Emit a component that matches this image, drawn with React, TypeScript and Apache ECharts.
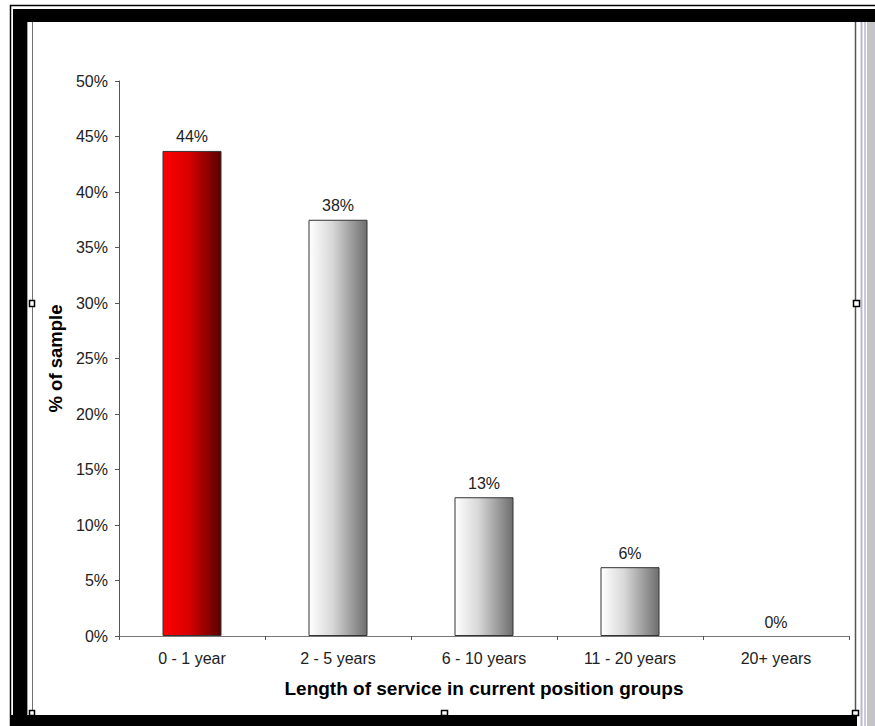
import React, { useEffect, useRef } from "react";
import * as echarts from "echarts";

const categories = ["0 - 1 year", "2 - 5 years", "6 - 10 years", "11 - 20 years", "20+ years"];
const shares = [43.7, 37.5, 12.5, 6.2, 0];
const yTicks = { min: 0, max: 50, interval: 5 };
const highlightIndex = 0;

const FONT = "'Liberation Sans', Arial, sans-serif";

function frameGraphics() {
  const els: any[] = [];
  els.push({ type: "rect", shape: { x: 10.5, y: 5.5, width: 870, height: 740 }, style: { fill: "none", stroke: "#000", lineWidth: 1.5 }, silent: true });
  els.push({ type: "rect", shape: { x: 13, y: 9, width: 862, height: 13 }, style: { fill: "#000" }, silent: true });
  els.push({ type: "rect", shape: { x: 13, y: 9, width: 14, height: 717 }, style: { fill: "#000" }, silent: true });
  els.push({ type: "rect", shape: { x: 11, y: 715, width: 851, height: 11 }, style: { fill: "#000" }, silent: true });
  els.push({ type: "line", shape: { x1: 27.5, y1: 22, x2: 27.5, y2: 715 }, style: { stroke: "#a0a0a0", lineWidth: 1 }, silent: true });
  els.push({ type: "line", shape: { x1: 32.5, y1: 22, x2: 32.5, y2: 715 }, style: { stroke: "#707070", lineWidth: 1 }, silent: true });
  els.push({ type: "line", shape: { x1: 855.5, y1: 22, x2: 855.5, y2: 715 }, style: { stroke: "#555", lineWidth: 1.5 }, silent: true });
  els.push({ type: "rect", shape: { x: 857, y: 22, width: 18, height: 704 }, style: { fill: "#fff" }, silent: true });
  els.push({ type: "line", shape: { x1: 861.5, y1: 22, x2: 861.5, y2: 726 }, style: { stroke: "#b8b8d0", lineWidth: 2 }, silent: true });
  els.push({ type: "line", shape: { x1: 865, y1: 22, x2: 865, y2: 726 }, style: { stroke: "#b8b8d0", lineWidth: 1.5 }, silent: true });
  els.push({ type: "rect", shape: { x: 867, y: 22, width: 8, height: 704 }, style: { fill: "#c4c4c4" }, silent: true });
  const handles = [
    [29, 300, 5, 6],
    [853, 300, 6, 6],
    [441, 710, 6, 5],
    [29, 710, 5, 5],
    [852, 710, 6, 5],
  ];
  handles.forEach(([x, y, w, h]) => {
    els.push({ type: "rect", shape: { x: x + 0.5, y: y + 0.5, width: w, height: h }, style: { fill: "#fff", stroke: "#000", lineWidth: 1.5 }, silent: true, z: 10 });
  });
  return els;
}

export default function App() {
  const ref = useRef<HTMLDivElement>(null);
  useEffect(() => {
    if (!ref.current) return;
    const chart = echarts.init(ref.current, null, { renderer: "svg" });
    const redGrad = new echarts.graphic.LinearGradient(0, 0, 1, 0, [
      { offset: 0, color: "#ff0000" },
      { offset: 0.45, color: "#d80000" },
      { offset: 1, color: "#580000" },
    ]);
    const grayGrad = new echarts.graphic.LinearGradient(0, 0, 1, 0, [
      { offset: 0, color: "#ffffff" },
      { offset: 0.4, color: "#d8d8d8" },
      { offset: 1, color: "#6e6e6e" },
    ]);
    chart.setOption({
      animation: false,
      backgroundColor: "#fff",
      grid: { left: 119, right: 26, top: 81, bottom: 90, containLabel: false },
      xAxis: {
        type: "category",
        data: categories,
        name: "Length of service in current position groups",
        nameLocation: "middle",
        nameGap: 43,
        nameTextStyle: { fontFamily: FONT, fontWeight: "bold", fontSize: 19, color: "#000" },
        axisLine: { lineStyle: { color: "#777", width: 1 } },
        axisTick: { show: true, length: 4, lineStyle: { color: "#555" } },
        axisLabel: { fontFamily: FONT, fontSize: 16, color: "#222", margin: 14 },
      },
      yAxis: {
        type: "value",
        min: yTicks.min,
        max: yTicks.max,
        interval: yTicks.interval,
        name: "% of sample",
        nameLocation: "middle",
        nameGap: 52,
        nameTextStyle: { fontFamily: FONT, fontWeight: "bold", fontSize: 18.5, color: "#000" },
        axisLine: { show: true, lineStyle: { color: "#555", width: 1 } },
        axisTick: { show: true, length: 4, lineStyle: { color: "#555" } },
        splitLine: { show: false },
        axisLabel: { fontFamily: FONT, fontSize: 16, color: "#222", margin: 11, formatter: "{value}%" },
      },
      series: [
        {
          type: "bar",
          barWidth: 59,
          data: shares.map((v, i) => ({
            value: v,
            itemStyle: {
              color: i === highlightIndex ? redGrad : grayGrad,
              borderColor: "#333",
              borderWidth: v === 0 ? 0 : 1,
            },
          })),
          label: {
            show: true,
            position: "top",
            distance: 6,
            fontFamily: FONT,
            fontSize: 16,
            color: "#222",
            formatter: (p: any) => Math.round(p.value) + "%",
          },
        },
      ],
      graphic: frameGraphics(),
    });
    return () => chart.dispose();
  }, []);
  return (
    <div
      ref={ref}
      style={{ position: "absolute", left: 0, top: 0, width: 875, height: 726, background: "#fff" }}
    />
  );
}
